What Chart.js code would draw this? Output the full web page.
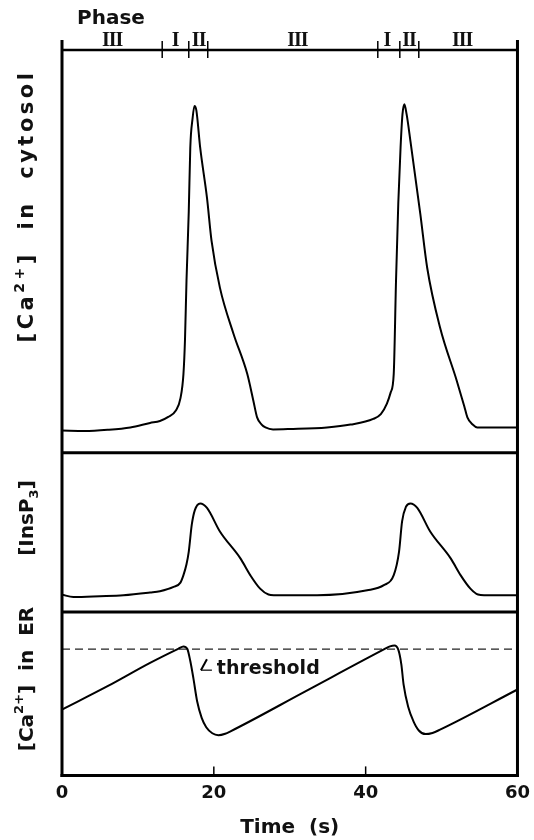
<!DOCTYPE html>
<html>
<head>
<meta charset="utf-8">
<script src="https://cdn.jsdelivr.net/npm/chart.js@4/dist/chart.umd.min.js"></script>
<style>
  html, body { margin: 0; padding: 0; background: #fff; }
  #wrap { position: relative; width: 534px; height: 840px; }
</style>
</head>
<body>
<div id="wrap"><canvas id="chart"></canvas></div>
<script>
// time axis
const xTicks = [0, 20, 40, 60];

// phase bar on top
const phaseBounds = [13.2, 16.7, 19.2, 41.6, 44.5, 47.0];
const phaseLabels = ["III", "I", "II", "III", "I", "II", "III"];
const phaseLabelAt = [6.6, 14.9, 18.0, 31, 42.8, 45.7, 52.7];

// [Ca2+] in cytosol (arbitrary units)
const tCyt = [0, 3, 6, 9, 11.6, 12.9, 14.0, 15.0, 15.6, 16.0, 16.2, 16.4, 16.7, 16.9, 17.2,
  17.45, 17.7, 18.2, 19.1, 19.7, 20.8, 22.6, 24.4, 25.2, 25.7, 26.3, 26.8, 27.8, 30, 34.9,
  38, 41, 42.0, 42.8, 43.3, 43.7, 44.0, 44.3, 44.6, 44.85, 45.1, 45.4, 45.9, 47.2, 48.1,
  49.8, 52.0, 53.0, 53.4, 54.1, 54.7, 57, 60];
const cCyt = [5.5, 5.4, 5.7, 6.3, 7.4, 7.9, 8.9, 10.5, 13.5, 19.6, 28, 42.7, 60, 75.8, 83,
  86.1, 85, 75.8, 63.3, 52.6, 41, 29.5, 19.6, 13, 8.8, 7, 6.3, 5.8, 5.9, 6.3,
  7, 8.4, 9.6, 12.2, 15, 19.6, 42.7, 62, 75.8, 84, 86.5, 84, 77.4, 59.3, 46,
  31.1, 17.9, 11.5, 8.8, 7, 6.3, 6.3, 6.3];

// [InsP3]
const tIns = [0, 1.5, 5, 8.1, 11.6, 12.9, 14.7, 15.6, 16.0, 16.4, 16.7, 17.1, 17.5, 18.2, 19.1,
  20.8, 23.5, 24.8, 26.1, 27.2, 27.9, 33.6, 40.2, 42.4, 43.7, 44.4, 44.8, 45.3, 45.9, 46.8,
  48.5, 51.2, 52.5, 53.8, 54.8, 55.6, 60];
const cIns = [10.9, 9.5, 10, 10.6, 12.3, 13.1, 15.8, 18.5, 23.2, 30, 38, 55, 64, 68.2, 65.4,
  50.6, 33.7, 23.2, 14.7, 11, 10.6, 10.6, 13.7, 16.9, 23.2, 38, 57, 66, 68.2, 65.4,
  50.6, 33.7, 23.2, 14.7, 11, 10.6, 10.6];

// [Ca2+] in ER
const tER = [0, 6, 11.6, 15.3, 16.0, 16.5, 16.9, 17.3, 17.8, 18.4, 19.0, 19.8, 20.6, 21.5, 22.2,
  32, 42.4, 43.2, 43.8, 44.3, 44.7, 45.0, 45.6, 46.3, 47.0, 47.9, 48.8, 49.8, 60];
const cER = [40.3, 54.6, 68.9, 77.5, 79, 77.5, 70, 59.7, 45.4, 35.2, 29.5, 25.8, 24.6, 25.5, 27,
  51.3, 77.1, 79, 79.6, 77, 68, 55.6, 42, 33.1, 27.5, 25.3, 26, 28, 52.6];
const threshold = 77.3;

const SANS = '"DejaVu Sans", sans-serif';

function pts(ts, vs) {
  return ts.map((t, i) => ({ x: t, y: vs[i] }));
}

function line(ctx, x1, y1, x2, y2) {
  ctx.beginPath();
  ctx.moveTo(x1, y1);
  ctx.lineTo(x2, y2);
  ctx.stroke();
}

// rotated label made of pieces: [text, font, shift]
function drawVertical(ctx, cx, cy, parts, spacing) {
  ctx.save();
  ctx.translate(cx, cy);
  ctx.rotate(-Math.PI / 2);
  ctx.textAlign = "left";
  ctx.textBaseline = "middle";
  ctx.letterSpacing = (spacing || 0) + "px";
  let total = 0;
  parts.forEach(p => { ctx.font = p[1]; total += ctx.measureText(p[0]).width; });
  let x = -total / 2;
  parts.forEach(p => {
    ctx.font = p[1];
    ctx.fillText(p[0], x, p[2] || 0);
    x += ctx.measureText(p[0]).width;
  });
  ctx.restore();
}

const decor = {
  id: "decor",
  afterDraw(chart) {
    const { ctx, chartArea: a, scales } = chart;
    const x = scales.x, yMid = scales.yMid, yBot = scales.yBot;
    ctx.save();
    ctx.strokeStyle = "#000";
    ctx.fillStyle = "#111";

    // frame
    ctx.lineWidth = 3;
    line(ctx, a.left, a.top - 10, a.left, a.bottom + 1.5);
    line(ctx, a.right, a.top - 10, a.right, a.bottom + 1.5);
    line(ctx, a.left, yMid.top, a.right, yMid.top);
    line(ctx, a.left, yBot.top, a.right, yBot.top);
    line(ctx, a.left - 1.5, a.bottom, a.right + 1.5, a.bottom);
    ctx.lineWidth = 2.5;
    line(ctx, a.left, a.top, a.right, a.top);

    // phase ticks
    ctx.lineWidth = 1.5;
    phaseBounds.forEach(t => {
      const px = x.getPixelForValue(t);
      line(ctx, px, a.top - 9, px, a.top + 8);
    });

    // inward time ticks
    xTicks.slice(1, -1).forEach(t => {
      const px = x.getPixelForValue(t);
      line(ctx, px, a.bottom, px, a.bottom - 9);
    });

    // phase labels
    ctx.font = 'bold 20px "Liberation Serif", serif';
    ctx.letterSpacing = "-1px";
    ctx.textAlign = "center";
    ctx.textBaseline = "alphabetic";
    phaseLabels.forEach((s, i) => {
      ctx.fillText(s, x.getPixelForValue(phaseLabelAt[i]), a.top - 4);
    });
    ctx.letterSpacing = "0px";
    ctx.font = "bold 20px " + SANS;
    ctx.fillText("Phase", 111, 24);

    // threshold label
    const ty = yBot.getPixelForValue(threshold);
    ctx.textAlign = "left";
    ctx.font = "bold 19px " + SANS;
    ctx.fillText("threshold", x.getPixelForValue(20.4), ty + 25);
    ctx.lineWidth = 2;
    const ax = x.getPixelForValue(18.3);
    line(ctx, ax + 6, ty + 10, ax, ty + 21);
    ctx.lineWidth = 1.2;
    line(ctx, ax, ty + 21, ax + 11, ty + 21);

    // y titles
    const big = "bold 21px " + SANS;
    const sup = "bold 14px " + SANS;
    drawVertical(ctx, 28, 206, [["[Ca", big], ["2+", sup, -8], ["]  in  cytosol", big]], 3.5);
    drawVertical(ctx, 28, 518, [["[InsP", "bold 20px " + SANS], ["3", "bold 13px " + SANS, 7], ["]", "bold 20px " + SANS]]);
    drawVertical(ctx, 28, 679, [["[Ca", "bold 20px " + SANS], ["2+", "bold 13px " + SANS, -8], ["]  in  ER", "bold 20px " + SANS]]);
    ctx.restore();
  }
};

const lineStyle = {
  borderColor: "#000",
  borderWidth: 2,
  pointRadius: 0,
  fill: false,
  cubicInterpolationMode: "monotone"
};

const panelAxis = weight => ({
  type: "linear", position: "left", stack: "panels", stackWeight: weight,
  min: 0, max: 100,
  grid: { display: false, drawTicks: false },
  border: { display: false },
  ticks: { display: false }
});

new Chart(document.getElementById("chart"), {
  type: "line",
  data: {
    datasets: [
      { ...lineStyle, label: "cytosol", data: pts(tCyt, cCyt), yAxisID: "yTop" },
      { ...lineStyle, label: "InsP3", data: pts(tIns, cIns), yAxisID: "yMid" },
      { ...lineStyle, label: "ER", data: pts(tER, cER), yAxisID: "yBot" },
      {
        label: "threshold",
        data: [{ x: 0, y: threshold }, { x: 60, y: threshold }],
        yAxisID: "yBot",
        borderColor: "#222",
        borderWidth: 1.2,
        borderDash: [8, 5],
        pointRadius: 0
      }
    ]
  },
  options: {
    responsive: true,
    maintainAspectRatio: false,
    animation: false,
    devicePixelRatio: 1,
    layout: { padding: { left: 62, right: 14, top: 50, bottom: 0 } },
    plugins: { legend: { display: false }, tooltip: { enabled: false } },
    scales: {
      x: {
        type: "linear",
        min: 0,
        max: 60,
        afterBuildTicks: s => { s.ticks = xTicks.map(v => ({ value: v })); },
        grid: { display: false, drawTicks: true, tickLength: 3 },
        border: { display: false },
        ticks: { color: "#111", padding: 4, font: { family: SANS, size: 18, weight: "bold" } },
        title: {
          display: true,
          text: "Time  (s)",
          color: "#111",
          padding: { top: 8, bottom: 0 },
          font: { family: SANS, size: 20, weight: "bold" }
        }
      },
      yBot: panelAxis(163),
      yMid: panelAxis(159),
      yTop: panelAxis(402)
    }
  },
  plugins: [decor]
});
</script>
</body>
</html>
